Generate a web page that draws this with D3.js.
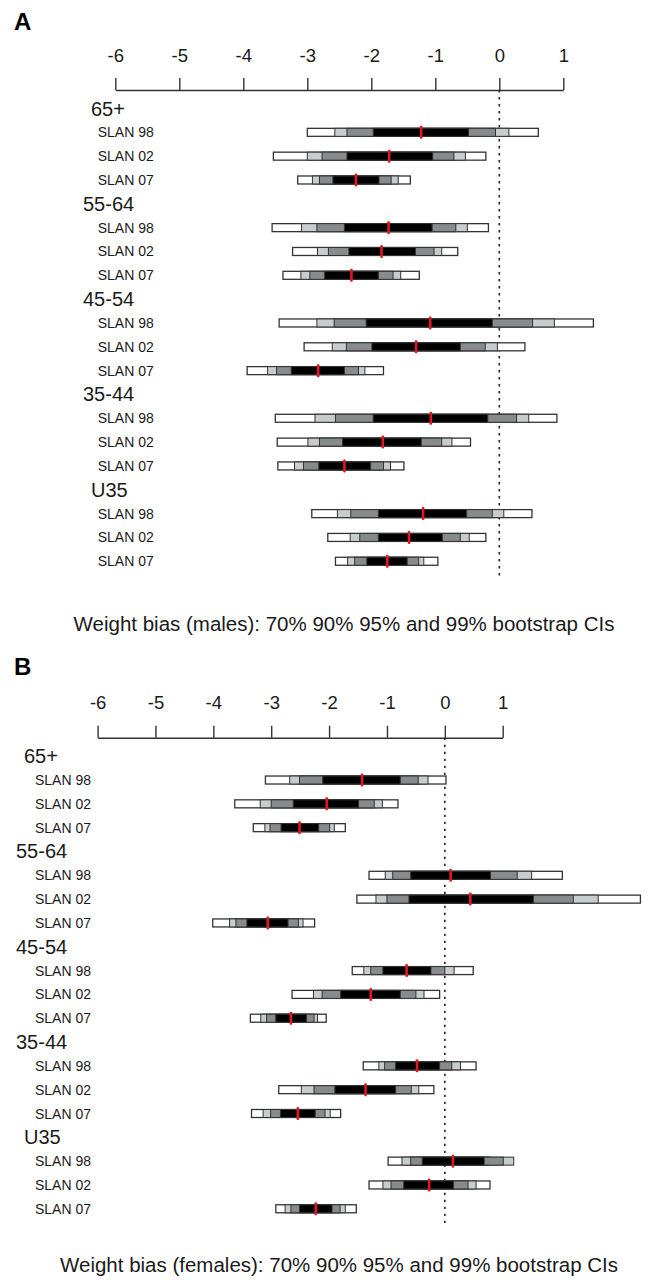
<!DOCTYPE html>
<html>
<head>
<meta charset="utf-8">
<script src="https://cdn.jsdelivr.net/npm/d3@7"></script>
<style>
  html, body { margin: 0; padding: 0; background: #fff; }
  svg { display: block; }
  text { font-family: "Liberation Sans", Arial, Helvetica, sans-serif; fill: #1a1a1a; }
</style>
</head>
<body>
<div id="chart"></div>
<script>
// ---------- data ----------
const ageGroups = ["65+", "55-64", "45-54", "35-44", "U35"];
const surveys = ["SLAN 98", "SLAN 02", "SLAN 07"];
const tickValues = [-6, -5, -4, -3, -2, -1, 0, 1];

// Males: 15 bars (age group x survey), ordered as ageGroups x surveys
const maleLo99 = [-3.00, -3.53, -3.15, -3.55, -3.23, -3.38, -3.44, -3.05, -3.94, -3.50, -3.47, -3.46, -2.93, -2.68, -2.56];
const maleLo95 = [-2.57, -3.00, -2.92, -3.09, -2.84, -3.10, -2.85, -2.61, -3.62, -2.88, -2.99, -3.20, -2.53, -2.33, -2.37];
const maleLo90 = [-2.38, -2.77, -2.81, -2.85, -2.67, -2.96, -2.58, -2.39, -3.48, -2.56, -2.81, -3.06, -2.32, -2.18, -2.26];
const maleLo70 = [-1.97, -2.38, -2.60, -2.42, -2.35, -2.73, -2.08, -1.99, -3.25, -1.97, -2.45, -2.82, -1.89, -1.89, -2.07];
const maleMed  = [-1.22, -1.72, -2.24, -1.73, -1.84, -2.31, -1.08, -1.30, -2.83, -1.07, -1.82, -2.42, -1.19, -1.41, -1.75];
const maleHi70 = [-0.48, -1.04, -1.88, -1.05, -1.31, -1.89, -0.11, -0.61, -2.42, -0.18, -1.22, -2.01, -0.51, -0.89, -1.44];
const maleHi90 = [-0.06, -0.71, -1.69, -0.68, -1.02, -1.66, 0.52, -0.22, -2.20, 0.27, -0.90, -1.81, -0.11, -0.61, -1.26];
const maleHi95 = [0.15, -0.53, -1.58, -0.50, -0.90, -1.54, 0.86, -0.03, -2.10, 0.46, -0.74, -1.70, 0.07, -0.47, -1.18];
const maleHi99 = [0.61, -0.21, -1.39, -0.17, -0.65, -1.25, 1.47, 0.40, -1.81, 0.90, -0.45, -1.49, 0.51, -0.21, -0.96];

// Females
const femLo99 = [-3.10, -3.63, -3.31, -1.31, -1.52, -4.01, -1.60, -2.64, -3.36, -1.41, -2.87, -3.34, -0.98, -1.31, -2.92];
const femLo95 = [-2.68, -3.19, -3.11, -1.03, -1.19, -3.72, -1.40, -2.27, -3.18, -1.14, -2.48, -3.14, -0.74, -1.07, -2.76];
const femLo90 = [-2.51, -3.00, -3.02, -0.90, -1.00, -3.61, -1.28, -2.12, -3.08, -1.04, -2.26, -3.01, -0.59, -0.93, -2.66];
const femLo70 = [-2.11, -2.62, -2.83, -0.59, -0.62, -3.42, -1.07, -1.80, -2.92, -0.85, -1.90, -2.84, -0.39, -0.71, -2.51];
const femMed  = [-1.43, -2.04, -2.51, 0.10, 0.44, -3.06, -0.66, -1.28, -2.66, -0.48, -1.37, -2.54, 0.14, -0.27, -2.23];
const femHi70 = [-0.77, -1.49, -2.18, 0.79, 1.53, -2.71, -0.24, -0.77, -2.39, -0.09, -0.85, -2.24, 0.68, 0.15, -1.95];
const femHi90 = [-0.46, -1.22, -1.99, 1.25, 2.22, -2.53, 0.00, -0.50, -2.26, 0.12, -0.58, -2.07, 1.01, 0.40, -1.81];
const femHi95 = [-0.29, -1.08, -1.91, 1.50, 2.65, -2.45, 0.16, -0.36, -2.20, 0.27, -0.45, -1.98, 1.19, 0.54, -1.72];
const femHi99 = [0.02, -0.81, -1.72, 2.03, 3.38, -2.25, 0.49, -0.09, -2.05, 0.54, -0.19, -1.80, 0.78, 0.78, -1.53];

const captionMale = "Weight bias (males): 70% 90% 95% and 99% bootstrap CIs";
const captionFemale = "Weight bias (females): 70% 90% 95% and 99% bootstrap CIs";

// ---------- build ----------
const W = 650, H = 1284;
const svg = d3.select("#chart").append("svg").attr("width", W).attr("height", H);
svg.append("rect").attr("width", W).attr("height", H).attr("fill", "#fff");

function makeRows(lo99, lo95, lo90, lo70, med, hi70, hi90, hi95, hi99) {
  const rows = [];
  ageGroups.forEach((g, gi) => {
    surveys.forEach((s, si) => {
      const k = gi * 3 + si;
      rows.push({group: g, gi, survey: s, si, row: gi * 4 + 1 + si,
        lo99: lo99[k], lo95: lo95[k], lo90: lo90[k], lo70: lo70[k], med: med[k],
        hi70: hi70[k], hi90: hi90[k], hi95: hi95[k], hi99: hi99[k]});
    });
  });
  return rows;
}

const colors = {c99: "#ffffff", c95: "#c7cccc", c90: "#878b8b", c70: "#000000", med: "#e2171f"};

function panel(opt) {
  const g = svg.append("g");
  const x = d3.scaleLinear().domain([-6, 1]).range(opt.xRange);
  const rowIds = d3.range(20);
  const y = d3.scalePoint().domain(rowIds).range([opt.row0, opt.row0 + 19 * opt.pitch]);

  // letter
  g.append("text").attr("x", opt.letterX).attr("y", opt.letterY)
    .attr("font-size", 24).attr("font-weight", "bold").style("fill", "#000").text(opt.letter);

  // axis
  const axis = d3.axisTop(x).tickValues(tickValues).tickFormat(d => String(d))
    .tickSize(12).tickSizeOuter(0).tickPadding(16.5);
  const ag = g.append("g").attr("transform", `translate(0,${opt.axisY})`).call(axis);
  ag.select(".domain").attr("stroke", "#333").attr("stroke-width", 1.4);
  ag.selectAll(".tick line").attr("stroke", "#333").attr("stroke-width", 1.4);
  ag.selectAll(".tick text").attr("font-size", 18.5)
    .attr("font-family", "Liberation Sans, Arial, sans-serif").style("fill", "#1a1a1a");

  // zero dotted line
  g.append("line").attr("x1", x(0)).attr("x2", x(0)).attr("y1", opt.axisY).attr("y2", opt.dotEnd)
    .attr("stroke", "#222").attr("stroke-width", 1.6).attr("stroke-dasharray", "2.4,4.6");

  // group labels
  ageGroups.forEach((ag_, gi) => {
    const indent = (ag_ === "65+" || ag_ === "U35") ? 8 : 0;
    g.append("text").attr("x", opt.groupX + indent).attr("y", y(gi * 4) + 7)
      .attr("font-size", 20).text(ag_);
  });

  const rows = opt.rows;
  // survey labels
  g.selectAll("text.sv").data(rows).enter().append("text").attr("class", "sv")
    .attr("x", opt.surveyX).attr("y", d => y(d.row) + 5)
    .attr("font-size", 14).text(d => d.survey);

  const bh = 8;
  const levels = [
    ["lo99", "hi99", colors.c99],
    ["lo95", "hi95", colors.c95],
    ["lo90", "hi90", colors.c90],
    ["lo70", "hi70", colors.c70]
  ];
  levels.forEach(([lo, hi, c]) => {
    g.selectAll(`rect.${lo}`).data(rows).enter().append("rect").attr("class", lo)
      .attr("x", d => x(d[lo])).attr("width", d => x(d[hi]) - x(d[lo]))
      .attr("y", d => y(d.row) - bh / 2).attr("height", bh)
      .attr("fill", c).attr("stroke", "#333").attr("stroke-width", lo === "lo99" ? 1.3 : 1);
  });
  g.selectAll("rect.med").data(rows).enter().append("rect").attr("class", "med")
    .attr("x", d => x(d.med) - 1.3).attr("width", 2.6)
    .attr("y", d => y(d.row) - 6.5).attr("height", 13)
    .attr("rx", 1).attr("fill", colors.med);

  // caption
  g.append("text").attr("x", opt.capX).attr("y", opt.capY).attr("text-anchor", "middle")
    .attr("font-size", 20.5).text(opt.caption);
}

panel({
  letter: "A", letterX: 14, letterY: 30,
  xRange: [115.3, 563.3], axisY: 90, row0: 108.5, pitch: 23.83, dotEnd: 578,
  groupX: 83, surveyX: 97.7, capX: 344, capY: 630.5, caption: captionMale,
  rows: makeRows(maleLo99, maleLo95, maleLo90, maleLo70, maleMed, maleHi70, maleHi90, maleHi95, maleHi99)
});

panel({
  letter: "B", letterX: 14, letterY: 675,
  xRange: [97.6, 502.7], axisY: 737.7, row0: 756.2, pitch: 23.82, dotEnd: 1226.7,
  groupX: 16, surveyX: 35, capX: 339, capY: 1272, caption: captionFemale,
  rows: makeRows(femLo99, femLo95, femLo90, femLo70, femMed, femHi70, femHi90, femHi95, femHi99)
});
</script>
</body>
</html>
